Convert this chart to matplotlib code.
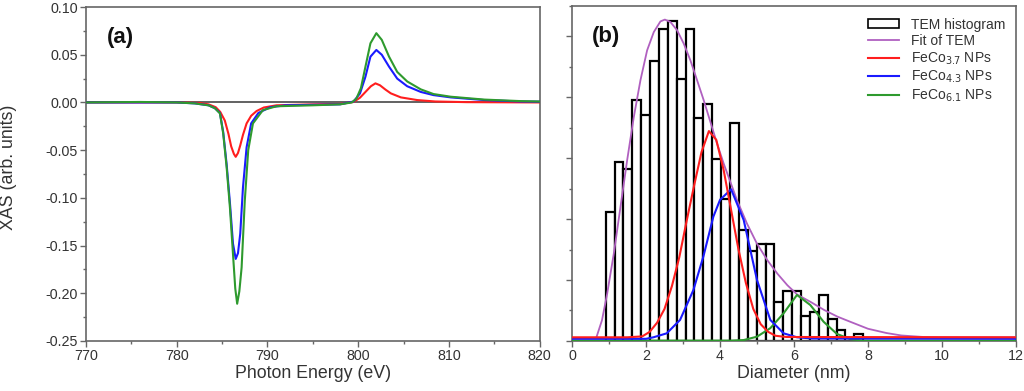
import numpy as np
import matplotlib
matplotlib.use("Agg")
import matplotlib.pyplot as plt
from matplotlib.patches import Patch
from matplotlib.lines import Line2D
from matplotlib.ticker import MultipleLocator, FormatStrFormatter

# ---- panel (a): XAS difference spectra ----
green_e = [770, 776, 780, 782, 783.5, 784.2, 784.76, 785.12, 785.5, 785.86, 786.2, 786.45,
           786.66, 786.9, 787.15, 787.5, 787.88, 788.4, 789.5, 791, 795, 798, 799.3, 799.8,
           800.3, 800.8, 801.35, 802.0, 802.6, 803.4, 804.3, 805.4, 806.9, 808.3, 810.2,
           813.9, 817.9, 820]
green_v = [0.0, 0.0005, 0.0, -0.001, -0.003, -0.006, -0.0115, -0.0325, -0.068, -0.11, -0.159,
           -0.195, -0.211, -0.198, -0.173, -0.103, -0.05, -0.022, -0.008, -0.004, -0.003,
           -0.002, 0.0, 0.004, 0.015, 0.0375, 0.062, 0.0726, 0.0656, 0.048, 0.032, 0.022,
           0.0137, 0.0088, 0.006, 0.003, 0.0014, 0.001]

blue_e = [770, 780, 782, 783.5, 784.2, 784.76, 785.12, 785.5, 785.86, 786.2, 786.5, 786.75,
          787.0, 787.3, 787.7, 788.2, 789.0, 790.3, 792, 798, 799.5, 800.2, 800.8, 801.35,
          802.0, 802.6, 803.4, 804.3, 805.4, 806.9, 808.3, 810.2, 813.9, 817.9, 820]
blue_v = [0.0, 0.0, -0.001, -0.003, -0.006, -0.011, -0.031, -0.065, -0.105, -0.148, -0.164,
          -0.158, -0.1375, -0.089, -0.047, -0.022, -0.011, -0.005, -0.003, -0.002, 0.001,
          0.0095, 0.027, 0.048, 0.055, 0.050, 0.0375, 0.025, 0.017, 0.011, 0.0077, 0.0053,
          0.0025, 0.001, 0.0008]

red_e = [770, 780, 782.5, 783.5, 784.3, 784.8, 785.3, 785.7, 786.0, 786.3, 786.5, 786.75,
         787.0, 787.3, 787.7, 788.2, 788.8, 789.6, 791, 795, 798, 799.5, 800.2, 800.8, 801.4,
         801.9, 802.4, 803.0, 803.6, 804.7, 806.5, 808.5, 812, 820]
red_v = [0.0, 0.0, -0.0005, -0.002, -0.005, -0.010, -0.019, -0.033, -0.046, -0.054, -0.057,
         -0.053, -0.045, -0.034, -0.022, -0.014, -0.009, -0.0053, -0.003, -0.002, -0.0015,
         0.0005, 0.005, 0.011, 0.017, 0.020, 0.018, 0.0135, 0.0095, 0.0053, 0.0025, 0.001,
         0.0003, 0.0]

# ---- panel (b): TEM size histogram and fits ----
bin_start = 0.91
bin_width = 0.24
counts = [4.24, 5.86, 5.64, 7.91, 7.42, 9.19, 10.23, 10.50, 8.60, 10.23, 7.31, 7.77, 5.97,
          4.65, 7.16, 3.64, 2.96, 3.18, 3.18, 1.29, 1.64, 1.64, 0.82, 0.96, 1.51, 0.71,
          0.36, 0.0, 0.23]

fit_d = [0.66, 0.81, 0.95, 1.13, 1.31, 1.49, 1.67, 1.85, 2.03, 2.21, 2.39, 2.51, 2.66, 2.84,
         3.02, 3.20, 3.38, 3.56, 3.74, 3.92, 4.10, 4.28, 4.46, 4.73, 5.0, 5.28, 5.55, 5.82,
         6.09, 6.45, 6.81, 7.17, 7.52, 8.0, 8.5, 8.9, 9.5, 10.0, 12.0]
fit_n = [0.12, 0.68, 1.55, 2.87, 4.40, 5.93, 7.35, 8.56, 9.54, 10.14, 10.49, 10.55, 10.47,
         10.20, 9.76, 9.21, 8.56, 7.90, 7.19, 6.48, 5.82, 5.22, 4.62, 3.85, 3.19, 2.65, 2.21,
         1.83, 1.52, 1.28, 1.02, 0.80, 0.63, 0.40, 0.26, 0.18, 0.13, 0.12, 0.12]

r_d = [0, 1.5, 1.9, 2.1, 2.3, 2.5, 2.7, 2.9, 3.1, 3.3, 3.5, 3.7, 3.9, 4.1, 4.3, 4.5, 4.7,
       4.9, 5.1, 5.3, 5.5, 5.8, 12]
r_n = [0.12, 0.12, 0.15, 0.3, 0.6, 1.05, 1.8, 2.75, 3.95, 5.1, 6.2, 6.89, 6.6, 5.6, 4.3,
       3.0, 1.9, 1.05, 0.55, 0.3, 0.17, 0.13, 0.12]

b_d = [0, 2.0, 2.2, 2.56, 2.92, 3.28, 3.55, 3.82, 4.0, 4.3, 4.64, 5.0, 5.36, 5.72, 6.08,
       6.5, 12]
b_n = [0.07, 0.07, 0.12, 0.25, 0.69, 1.67, 2.77, 4.08, 4.63, 4.98, 3.97, 2.0, 0.69, 0.25,
       0.12, 0.08, 0.07]

g_d = [0, 4.3, 4.64, 5.0, 5.36, 5.72, 6.08, 6.44, 6.8, 7.16, 7.52, 7.88, 12]
g_n = [0.01, 0.01, 0.03, 0.14, 0.42, 0.91, 1.51, 1.18, 0.63, 0.23, 0.06, 0.01, 0.01]

legend_labels = ["TEM histogram", "Fit of TEM", "FeCo$_{3.7}$ NPs", "FeCo$_{4.3}$ NPs",
                 "FeCo$_{6.1}$ NPs"]

RED = "#ff1e1e"
BLUE = "#1a1aff"
GREEN = "#2e9a2e"
PURPLE = "#b060c0"
TXT = "#333333"
SPINE = "#666666"

plt.rcParams.update({
    "font.family": ["Liberation Sans", "DejaVu Sans"],
    "axes.unicode_minus": False,
    "text.color": TXT,
    "axes.labelcolor": TXT,
    "xtick.color": SPINE,
    "ytick.color": SPINE,
    "xtick.labelcolor": TXT,
    "ytick.labelcolor": TXT,
    "axes.edgecolor": SPINE,
    "axes.linewidth": 1.2,
})

fig = plt.figure(figsize=(10.24, 3.91), dpi=100)
ax1 = fig.add_axes([0.084, 0.128, 0.443, 0.854])
ax2 = fig.add_axes([0.5586, 0.128, 0.4336, 0.857])

# panel (a)
ax1.axhline(0, color="#555555", linewidth=1.3, zorder=1)
ax1.plot(red_e, red_v, color=RED, linewidth=1.5, zorder=3)
ax1.plot(blue_e, blue_v, color=BLUE, linewidth=1.5, zorder=3)
ax1.plot(green_e, green_v, color=GREEN, linewidth=1.5, zorder=4)
ax1.set_xlim(770, 820)
ax1.set_ylim(-0.25, 0.10)
ax1.xaxis.set_major_locator(MultipleLocator(10))
ax1.xaxis.set_minor_locator(MultipleLocator(5))
ax1.yaxis.set_major_locator(MultipleLocator(0.05))
ax1.yaxis.set_minor_locator(MultipleLocator(0.025))
ax1.yaxis.set_major_formatter(FormatStrFormatter("%.2f"))
ax1.set_xlabel("Photon Energy (eV)", fontsize=12.8, labelpad=1)
ax1.set_ylabel("XAS (arb. units)", fontsize=12.8)
ax1.yaxis.set_label_coords(-0.152, 0.52)
ax1.text(0.046, 0.91, "(a)", transform=ax1.transAxes, fontsize=16, fontweight="bold",
         color="#111111", va="center", ha="left")

# panel (b)
edges = [bin_start + bin_width * i for i in range(len(counts))]
ax2.bar(edges, counts, width=bin_width, align="edge", facecolor="white",
        edgecolor="black", linewidth=1.6, zorder=2)
ax2.plot(fit_d, fit_n, color=PURPLE, linewidth=1.3, zorder=3)
ax2.plot(g_d, g_n, color=GREEN, linewidth=1.5, zorder=4)
ax2.plot(b_d, b_n, color=BLUE, linewidth=1.5, zorder=4)
ax2.plot(r_d, r_n, color=RED, linewidth=1.5, zorder=4)
ax2.set_xlim(0, 12)
ax2.set_ylim(0, 11)
ax2.xaxis.set_major_locator(MultipleLocator(2))
ax2.xaxis.set_minor_locator(MultipleLocator(1))
ax2.yaxis.set_major_locator(MultipleLocator(2))
ax2.yaxis.set_minor_locator(MultipleLocator(1))
ax2.set_yticklabels([])
ax2.set_xlabel("Diameter (nm)", fontsize=12.8, labelpad=1)
ax2.text(0.045, 0.91, "(b)", transform=ax2.transAxes, fontsize=16, fontweight="bold",
         color="#111111", va="center", ha="left")

handles = [
    Patch(facecolor="white", edgecolor="black", linewidth=1.2),
    Line2D([], [], color=PURPLE, linewidth=1.3),
    Line2D([], [], color=RED, linewidth=1.5),
    Line2D([], [], color=BLUE, linewidth=1.5),
    Line2D([], [], color=GREEN, linewidth=1.5),
]
ax2.legend(handles, legend_labels, loc="upper right", bbox_to_anchor=(0.975, 0.965),
           frameon=False, fontsize=10, handlelength=2.2, handleheight=0.6,
           handletextpad=0.85, labelspacing=0.17, borderaxespad=0, borderpad=0)

for ax in (ax1, ax2):
    ax.tick_params(which="major", direction="out", length=4, width=1.0, labelsize=10.3, pad=2)
    ax.tick_params(which="minor", direction="out", length=2.5, width=1.0)

fig.savefig("out.png", dpi=100)
